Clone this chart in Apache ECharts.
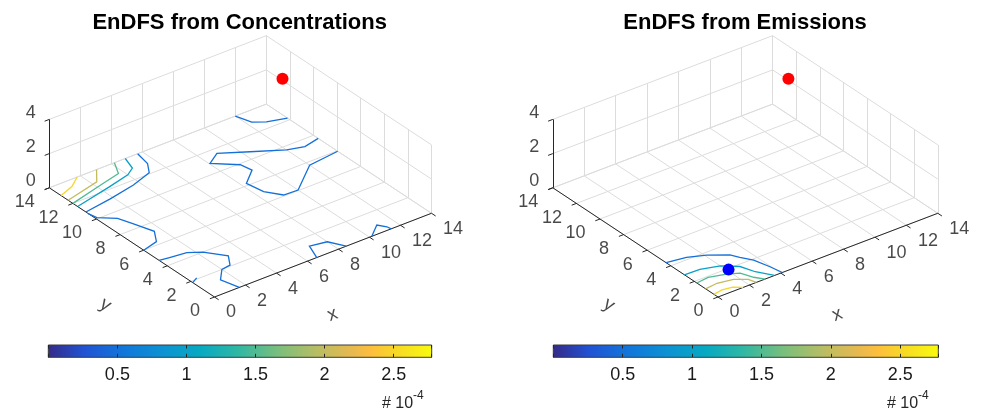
<!DOCTYPE html>
<html>
<head>
<meta charset="utf-8">
<script src="https://cdn.jsdelivr.net/npm/echarts@6/dist/echarts.min.js"></script>
<style>
html,body{margin:0;padding:0;background:#fff}
#main{width:981px;height:412px}
</style>
</head>
<body>
<div id="main"></div>
<script>
// axes
var xTicks = [0, 2, 4, 6, 8, 10, 12, 14];
var yTicks = [0, 2, 4, 6, 8, 10, 12, 14];
var zTicks = [0, 2, 4];
var cbTicks = [0.5, 1, 1.5, 2, 2.5];   // x 10^-4
var cbMin = 0, cbMax = 2.775;
var titles = ['EnDFS from Concentrations', 'EnDFS from Emissions'];

// contour lines on the floor: [level, [[x,y],...]]
var concContours = [
  [2.5, [[0,13.0],[1.0,13.4],[1.8,14]]],
  [2.0, [[0,12.4],[2.3,13.0],[3.05,14]]],
  [1.5, [[0,12.0],[2.2,12.6],[3.7,13.0],[4.2,14]]],
  [1.0, [[0,11.6],[2.5,12.2],[4.0,12.6],[4.6,13.0],[4.9,14]]],
  [0.5, [[0,10.9],[1.8,11.2],[3.6,11.6],[5.0,12.1],[5.5,12.9],[5.7,14]]],
  [0.5, [[0,10.7],[0.1,10.1],[0.9,9.4],[1.2,8.5],[1.6,7.2],[1.05,6.3],[0,6.0]]],
  [0.5, [[0,4.7],[0.6,4.6],[1.6,4.45],[2.3,4.0],[3.1,2.9],[2.6,2.1],[2.0,2.0],[1.3,1.2],[1.6,0]]],
  [0.5, [[0,1.85],[0.45,2.1]]],
  [0.5, [[6.6,0],[7.0,1.15],[8.0,0.95],[8.5,0]]],
  [0.5, [[10.15,0],[11.05,0.76],[11.35,0.3],[11.4,0]]],
  [0.5, [[14,9.6],[12.95,9.35],[12.0,9.65],[10.4,10.65],[8.95,11.55],[8.05,10.95],[9.2,9.9],[9.35,9.1],[8.3,8.2],[8.5,7.0],[9.1,6.1],[10.0,6.05],[12.0,7.7],[14,7.95]]],
  [0.5, [[12,14],[12.3,13.0],[12.9,12.55],[14,12.2]]]
];
var emisContours = [
  [2.5, [[0,0.35],[0.6,0.45],[1.2,0.35],[1.6,0]]],
  [2.0, [[0,1.05],[0.8,1.15],[1.7,0.95],[2.3,0.5],[2.45,0]]],
  [1.5, [[0,1.8],[0.8,1.9],[1.75,1.6],[2.35,1.25],[2.65,0.5],[3.0,0]]],
  [1.0, [[0,2.85],[0.95,2.8],[2.0,2.45],[2.75,1.8],[3.05,0.9],[3.6,0]]],
  [0.5, [[0,4.4],[1.15,4.2],[2.1,3.75],[3.05,3.05],[3.3,2.55],[3.7,1.9],[3.95,0.85],[4.1,0]]]
];
var sourcePoint = [12, 10, 4];
var estimatePoint = [2.1, 1.9, 0];

// parula
var parula = [
  [0.000,'#352a87'],[0.095,'#2053d4'],[0.206,'#1079da'],[0.302,'#0c93d2'],
  [0.397,'#07a9c2'],[0.492,'#2eb7a4'],[0.603,'#7cbf7b'],[0.698,'#b7bd64'],
  [0.794,'#e9b94e'],[0.841,'#fdbe3d'],[0.905,'#f7d826'],[1.000,'#f9fb0e']
];
function hex2rgb(h){ return [parseInt(h.substr(1,2),16),parseInt(h.substr(3,2),16),parseInt(h.substr(5,2),16)]; }
function colorAt(v){
  var t = (v - cbMin) / (cbMax - cbMin);
  for (var i = 1; i < parula.length; i++) {
    if (t <= parula[i][0]) {
      var a = parula[i-1], b = parula[i], f = (t - a[0]) / (b[0] - a[0]);
      var ca = hex2rgb(a[1]), cb = hex2rgb(b[1]);
      return 'rgb(' + ca.map(function(c,k){ return Math.round(c + (cb[k]-c)*f); }).join(',') + ')';
    }
  }
  return parula[parula.length-1][1];
}

// view of each 3D box on the page (pixels per unit)
var views = [
  {o:[214.5,297], ex:[15.5,-5.98], ey:[-11.8,-7.8], ez:[0,-17.1]},
  {o:[718,297],   ex:[15.7,-5.98], ey:[-11.8,-7.8], ez:[0,-17.1]}
];
function P(i, x, y, z){
  var v = views[i];
  return [v.o[0] + x*v.ex[0] + y*v.ey[0] + z*v.ez[0],
          v.o[1] + x*v.ex[1] + y*v.ey[1] + z*v.ez[1]];
}

var xMax = xTicks[xTicks.length-1], yMax = yTicks[yTicks.length-1], zMax = zTicks[zTicks.length-1];
var font = '"Liberation Sans", Arial, Helvetica, sans-serif';
var ink = '#262626';

var gridSeg = [], axisSeg = [], contourData = [];
var xLab = [], yLab = [], zLab = [], nameX = [], nameY = [];
[concContours, emisContours].forEach(function(cs, i){
  xTicks.forEach(function(x){
    gridSeg.push({coords:[P(i,x,0,0),P(i,x,yMax,0)]});
    gridSeg.push({coords:[P(i,x,yMax,0),P(i,x,yMax,zMax)]});
    axisSeg.push({coords:[P(i,x,0,0),P(i,x,-0.35,0)]});
    xLab.push({name:String(x), value:P(i,x,0,0)});
  });
  yTicks.forEach(function(y){
    gridSeg.push({coords:[P(i,0,y,0),P(i,xMax,y,0)]});
    gridSeg.push({coords:[P(i,xMax,y,0),P(i,xMax,y,zMax)]});
    axisSeg.push({coords:[P(i,0,y,0),P(i,-0.3,y,0)]});
    yLab.push({name:String(y), value:P(i,0,y,0)});
  });
  zTicks.forEach(function(z){
    gridSeg.push({coords:[P(i,0,yMax,z),P(i,xMax,yMax,z)]});
    gridSeg.push({coords:[P(i,xMax,yMax,z),P(i,xMax,0,z)]});
    axisSeg.push({coords:[P(i,0,yMax,z),P(i,-0.3,yMax,z)]});
    zLab.push({name:String(z), value:P(i,0,yMax,z)});
  });
  axisSeg.push({coords:[P(i,0,0,0),P(i,xMax,0,0)]});
  axisSeg.push({coords:[P(i,0,0,0),P(i,0,yMax,0)]});
  axisSeg.push({coords:[P(i,0,yMax,0),P(i,0,yMax,zMax)]});
  nameX.push({name:'x', value:P(i,xMax/2,0,0)});
  nameY.push({name:'y', value:P(i,0,yMax/2,0)});
  cs.forEach(function(c){
    contourData.push({
      coords: c[1].map(function(q){ return P(i,q[0],q[1],0); }),
      lineStyle: {color: colorAt(c[0])}
    });
  });
});

function labelSeries(data, lab){
  return {
    type:'scatter', xAxisIndex:0, yAxisIndex:0, symbolSize:1, silent:true,
    itemStyle:{color:'rgba(0,0,0,0)'}, data:data, z:5,
    label: Object.assign({show:true, formatter:'{b}', fontSize:18, color:'#1a1a1a', fontFamily:font, verticalAlign:'middle'}, lab)
  };
}

var gradient = {type:'linear', x:0, y:0, x2:1, y2:0,
  colorStops: parula.map(function(s){ return {offset:s[0], color:s[1]}; })};

var cbBoxes = [
  {left:48.3, top:345, width:383.4, height:12.3},
  {left:553.3, top:345, width:385, height:12.3}
];

var chart = echarts.init(document.getElementById('main'));
var option = {
  animation:false,
  grid:[
    {left:0, top:0, width:981, height:412, show:false}
  ].concat(cbBoxes.map(function(b){
    return {left:b.left, top:b.top, width:b.width, height:b.height, show:true,
      backgroundColor:gradient, borderColor:'#3a3a3a', borderWidth:1};
  })),
  xAxis:[
    {gridIndex:0, type:'value', min:0, max:981, show:false}
  ].concat([1,2].reduce(function(acc, g){
    var base = {gridIndex:g, type:'value', min:cbMin, max:cbMax, interval:0.5,
      axisLine:{show:false}, splitLine:{show:false},
      axisTick:{inside:true, length:3.5, lineStyle:{color:ink}}};
    acc.push(Object.assign({}, base, {position:'bottom',
      axisLabel:{fontSize:18, color:'#1a1a1a', fontFamily:font, margin:9,
        formatter:function(v){ return cbTicks.indexOf(+v.toFixed(3)) >= 0 ? String(v) : ''; }}}));
    acc.push(Object.assign({}, base, {position:'top', axisLabel:{show:false}}));
    return acc;
  }, [])),
  yAxis:[
    {gridIndex:0, type:'value', min:0, max:412, inverse:true, show:false},
    {gridIndex:1, type:'value', min:0, max:1, show:false},
    {gridIndex:2, type:'value', min:0, max:1, show:false}
  ],
  graphic:[
    {type:'text', x:239.7, y:23, style:{text:titles[0], font:'bold 22px ' + font, fill:'#000', align:'center', verticalAlign:'middle'}},
    {type:'text', x:745, y:23, style:{text:titles[1], font:'bold 22px ' + font, fill:'#000', align:'center', verticalAlign:'middle'}},
    {type:'text', x:382, y:396, style:{text:'# 10', font:'16px ' + font, fill:ink, verticalAlign:'top'}},
    {type:'text', x:413, y:390, style:{text:'-4', font:'12px ' + font, fill:ink, verticalAlign:'top'}},
    {type:'text', x:887, y:396, style:{text:'# 10', font:'16px ' + font, fill:ink, verticalAlign:'top'}},
    {type:'text', x:918, y:390, style:{text:'-4', font:'12px ' + font, fill:ink, verticalAlign:'top'}}
  ],
  series:[
    {type:'lines', coordinateSystem:'cartesian2d', xAxisIndex:0, yAxisIndex:0, silent:true, z:1,
      lineStyle:{color:'#dcdcdc', width:1, opacity:1}, data:gridSeg},
    {type:'lines', coordinateSystem:'cartesian2d', xAxisIndex:0, yAxisIndex:0, silent:true, z:2,
      lineStyle:{color:ink, width:1, opacity:1}, data:axisSeg},
    {type:'lines', coordinateSystem:'cartesian2d', xAxisIndex:0, yAxisIndex:0, silent:true, z:3, polyline:true,
      lineStyle:{width:1.3, opacity:1}, data:contourData},
    {type:'scatter', xAxisIndex:0, yAxisIndex:0, symbolSize:12, z:4, silent:true,
      itemStyle:{color:'#ff0000', opacity:1}, data:[P(0,sourcePoint[0],sourcePoint[1],sourcePoint[2]), P(1,sourcePoint[0],sourcePoint[1],sourcePoint[2])]},
    {type:'scatter', xAxisIndex:0, yAxisIndex:0, symbolSize:12, z:4, silent:true,
      itemStyle:{color:'#0000ff', opacity:1}, data:[P(1,estimatePoint[0],estimatePoint[1],estimatePoint[2])]},
    labelSeries(xLab, {position:[12,16], align:'left'}),
    labelSeries(yLab, {position:[-14,15], align:'right'}),
    labelSeries(zLab, {position:[-13,-6], align:'right'}),
    labelSeries(nameX, {position:[10,60], align:'center', rotate:21, fontSize:19}),
    labelSeries(nameY, {position:[-26,63], align:'center', rotate:-33, fontSize:19})
  ]
};
chart.setOption(option);
</script>
</body>
</html>
